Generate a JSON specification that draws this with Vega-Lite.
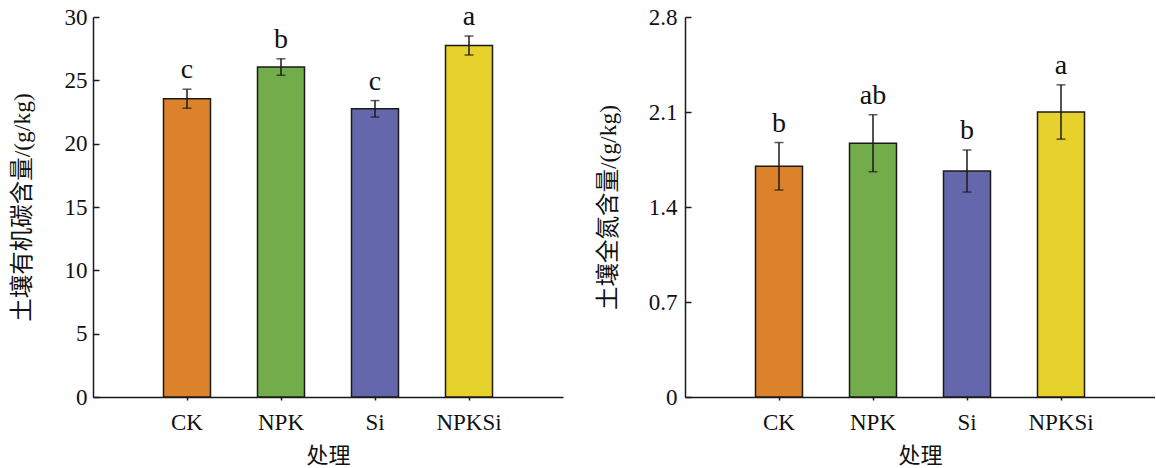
{
  "$schema": "https://vega.github.io/schema/vega-lite/v6.json",
  "padding": {"left": 10, "top": 3, "right": 0, "bottom": 0},
  "bounds": "flush",
  "spacing": 122,
  "config": {
    "font": "'Liberation Serif', 'Times New Roman', 'Noto Sans CJK SC', serif",
    "view": {"stroke": null},
    "axis": {
      "grid": false,
      "domainColor": "#1a1a1a",
      "domainWidth": 1.5,
      "tickColor": "#1a1a1a",
      "tickWidth": 1.5,
      "labelFont": "'Liberation Serif', 'Times New Roman', serif",
      "labelFontSize": 23,
      "labelColor": "#111111",
      "titleFont": "'Liberation Serif', 'Times New Roman', 'Noto Sans CJK SC', serif",
      "titleFontSize": 22,
      "titleFontWeight": "normal",
      "titleColor": "#111111"
    }
  },
  "datasets": {
    "soc": [
      {"treatment": "CK", "mean": 23.55, "sd": 0.75, "letter": "c"},
      {"treatment": "NPK", "mean": 26.05, "sd": 0.65, "letter": "b"},
      {"treatment": "Si", "mean": 22.75, "sd": 0.65, "letter": "c"},
      {"treatment": "NPKSi", "mean": 27.75, "sd": 0.75, "letter": "a"}
    ],
    "tn": [
      {"treatment": "CK", "mean": 1.70, "sd": 0.175, "letter": "b"},
      {"treatment": "NPK", "mean": 1.87, "sd": 0.21, "letter": "ab"},
      {"treatment": "Si", "mean": 1.665, "sd": 0.155, "letter": "b"},
      {"treatment": "NPKSi", "mean": 2.10, "sd": 0.20, "letter": "a"}
    ]
  },
  "hconcat": [
    {
      "width": 470,
      "height": 380,
      "data": {"name": "soc"},
      "transform": [{"calculate": "datum.mean + datum.sd", "as": "upper"}],
      "encoding": {
        "x": {
          "field": "treatment",
          "type": "nominal",
          "sort": null,
          "scale": {"paddingInner": 0.5, "paddingOuter": 0.75},
          "axis": {"title": "处理", "labelAngle": 0, "tickSize": 3, "labelPadding": 11, "titlePadding": 11}
        }
      },
      "layer": [
        {
          "mark": {"type": "bar", "stroke": "#1a1a1a", "strokeWidth": 1.5},
          "encoding": {
            "y": {
              "field": "mean",
              "type": "quantitative",
              "title": "土壤有机碳含量/(g/kg)",
              "scale": {"domain": [0, 30], "nice": false},
              "axis": {"values": [0, 5, 10, 15, 20, 25, 30], "tickSize": -6, "labelPadding": 12, "titlePadding": 30, "titleFontSize": 23.5}
            },
            "color": {
              "field": "treatment",
              "type": "nominal",
              "scale": {"domain": ["CK", "NPK", "Si", "NPKSi"], "range": ["#DB822B", "#72AC4B", "#6467AB", "#E7D22D"]},
              "legend": null
            }
          }
        },
        {
          "mark": {"type": "errorbar", "color": "#1a1a1a", "thickness": 1.5, "ticks": {"size": 9, "color": "#1a1a1a"}},
          "encoding": {
            "y": {"field": "mean", "type": "quantitative", "title": "土壤有机碳含量/(g/kg)"},
            "yError": {"field": "sd"}
          }
        },
        {
          "mark": {"type": "text", "baseline": "bottom", "dy": -5, "fontSize": 28, "color": "#111111", "font": "'Liberation Serif', 'Times New Roman', serif"},
          "encoding": {
            "y": {"field": "upper", "type": "quantitative", "title": "土壤有机碳含量/(g/kg)"},
            "text": {"field": "letter"}
          }
        }
      ]
    },
    {
      "width": 470,
      "height": 380,
      "data": {"name": "tn"},
      "transform": [{"calculate": "datum.mean + datum.sd", "as": "upper"}],
      "encoding": {
        "x": {
          "field": "treatment",
          "type": "nominal",
          "sort": null,
          "scale": {"paddingInner": 0.5, "paddingOuter": 0.75},
          "axis": {"title": "处理", "labelAngle": 0, "tickSize": 3, "labelPadding": 11, "titlePadding": 11}
        }
      },
      "layer": [
        {
          "mark": {"type": "bar", "stroke": "#1a1a1a", "strokeWidth": 1.5},
          "encoding": {
            "y": {
              "field": "mean",
              "type": "quantitative",
              "title": "土壤全氮含量/(g/kg)",
              "scale": {"domain": [0, 2.8], "nice": false},
              "axis": {"values": [0, 0.7, 1.4, 2.1, 2.8], "labelExpr": "datum.value === 0 ? '0' : format(datum.value, '.1f')", "tickSize": -6, "labelPadding": 14, "titlePadding": 28, "titleFontSize": 23.5}
            },
            "color": {
              "field": "treatment",
              "type": "nominal",
              "scale": {"domain": ["CK", "NPK", "Si", "NPKSi"], "range": ["#DB822B", "#72AC4B", "#6467AB", "#E7D22D"]},
              "legend": null
            }
          }
        },
        {
          "mark": {"type": "errorbar", "color": "#1a1a1a", "thickness": 1.5, "ticks": {"size": 9, "color": "#1a1a1a"}},
          "encoding": {
            "y": {"field": "mean", "type": "quantitative", "title": "土壤全氮含量/(g/kg)"},
            "yError": {"field": "sd"}
          }
        },
        {
          "mark": {"type": "text", "baseline": "bottom", "dy": -5, "fontSize": 28, "color": "#111111", "font": "'Liberation Serif', 'Times New Roman', serif"},
          "encoding": {
            "y": {"field": "upper", "type": "quantitative", "title": "土壤全氮含量/(g/kg)"},
            "text": {"field": "letter"}
          }
        }
      ]
    }
  ],
  "resolve": {"scale": {"color": "independent"}}
}
